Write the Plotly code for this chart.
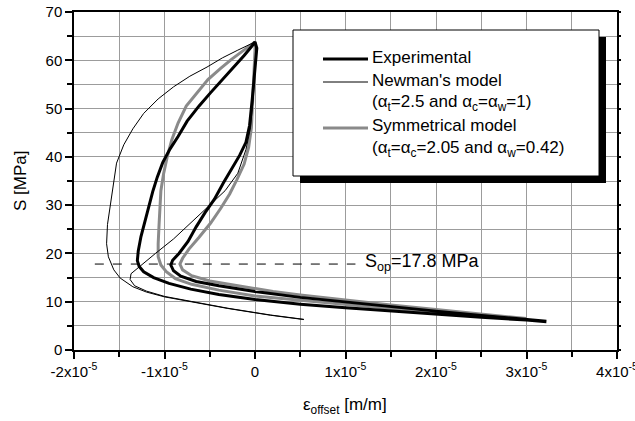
import plotly.graph_objects as go

# ---------------- data (strain offset in m/m, stress S in MPa) ----------------
exp_x = [3.22e-5, 3.0e-5, 2.5e-5, 2.0e-5, 1.5e-5, 1.0e-5, 0.5e-5, 0.0, -0.4e-5, -0.71e-5,
         -0.95e-5, -1.12e-5, -1.23e-5, -1.28e-5, -1.30e-5, -1.29e-5, -1.26e-5, -1.22e-5,
         -1.18e-5, -1.13e-5, -1.08e-5, -1.02e-5, -0.94e-5, -0.85e-5, -0.75e-5, -0.62e-5,
         -0.49e-5, -0.36e-5, -0.23e-5, -0.12e-5, -0.04e-5, 0.0,
         0.02e-5, 0.01e-5, -0.01e-5, -0.03e-5, -0.06e-5, -0.10e-5, -0.17e-5, -0.26e-5,
         -0.35e-5, -0.45e-5, -0.55e-5, -0.65e-5, -0.74e-5, -0.84e-5, -0.91e-5, -0.93e-5,
         -0.90e-5, -0.82e-5, -0.65e-5, -0.4e-5, 0.0, 0.5e-5, 1.0e-5, 1.5e-5, 2.0e-5,
         2.5e-5, 3.0e-5, 3.22e-5]
exp_s = [5.85, 6.2, 6.8, 7.4, 8.05, 8.75, 9.5, 10.45, 11.5, 12.6,
         13.8, 15.0, 16.2, 17.3, 18.5, 20.5, 23.5, 26.5,
         29.6, 32.8, 35.8, 38.8, 41.6, 44.2, 47.4, 50.5,
         53.3, 56.0, 58.6, 61.0, 62.8, 63.8,
         62.5, 60.0, 56.0, 52.0, 46.5, 43.0, 40.3, 37.5,
         34.6, 31.2, 28.5, 25.5, 22.5, 20.0, 18.6, 17.6,
         16.4, 15.3, 14.2, 13.3, 12.1, 10.9, 9.9, 9.0, 8.05,
         7.15, 6.3, 5.95]

newman_x = [0.54e-5, 0.17e-5, -0.3e-5, -0.7e-5, -1.0e-5, -1.2e-5, -1.35e-5, -1.49e-5,
            -1.56e-5, -1.62e-5, -1.64e-5, -1.63e-5, -1.60e-5, -1.57e-5, -1.53e-5, -1.45e-5,
            -1.35e-5, -1.23e-5, -1.07e-5, -0.90e-5, -0.72e-5, -0.53e-5, -0.36e-5, -0.19e-5,
            -0.07e-5, 0.0,
            0.01e-5, 0.0, -0.02e-5, -0.05e-5, -0.10e-5, -0.19e-5, -0.33e-5, -0.50e-5,
            -0.70e-5, -0.90e-5, -1.10e-5, -1.28e-5, -1.37e-5, -1.38e-5, -1.33e-5, -1.2e-5,
            -1.0e-5, -0.7e-5, -0.3e-5, 0.17e-5, 0.54e-5]
newman_s = [6.3, 7.2, 8.6, 10.0, 11.0, 12.0, 13.1, 14.9,
            16.6, 19.3, 22.0, 26.0, 29.6, 34.0, 38.7, 42.5,
            45.8, 49.0, 52.0, 54.5, 56.7, 58.6, 60.5, 62.1,
            63.2, 63.8,
            62.0, 58.0, 52.0, 46.0, 41.5, 36.6, 33.0, 30.0,
            26.5, 23.0, 20.0, 17.3, 15.8, 14.6, 13.3, 12.2,
            11.1, 10.05, 8.65, 7.25, 6.35]

sym_x = [3.0e-5, 2.5e-5, 2.0e-5, 1.5e-5, 1.0e-5, 0.5e-5, 0.0, -0.4e-5, -0.7e-5, -0.88e-5,
         -0.98e-5, -1.04e-5, -1.07e-5, -1.07e-5, -1.06e-5, -1.05e-5, -1.04e-5, -1.01e-5,
         -0.97e-5, -0.92e-5, -0.85e-5, -0.76e-5, -0.64e-5, -0.52e-5, -0.38e-5, -0.26e-5,
         -0.13e-5, -0.04e-5, 0.0,
         0.0, -0.01e-5, -0.02e-5, -0.04e-5, -0.07e-5, -0.12e-5, -0.2e-5, -0.28e-5,
         -0.38e-5, -0.49e-5, -0.62e-5, -0.73e-5, -0.80e-5, -0.83e-5, -0.80e-5, -0.70e-5,
         -0.5e-5, -0.2e-5, 0.2e-5, 0.5e-5, 1.0e-5, 1.5e-5, 2.0e-5, 2.5e-5, 3.0e-5]
sym_s = [6.4, 7.2, 7.9, 8.6, 9.4, 10.3, 11.2, 12.4, 13.6, 14.8,
         16.2, 17.6, 19.3, 22.0, 26.0, 29.6, 33.0, 36.5,
         40.0, 43.5, 47.0, 50.5, 53.3, 56.0, 58.3, 60.2,
         62.0, 63.3, 63.8,
         62.0, 58.0, 52.0, 46.0, 42.0, 38.5, 35.3, 32.3,
         29.3, 26.3, 23.3, 20.9, 19.0, 17.8, 16.6, 15.4,
         14.3, 13.3, 12.1, 11.4, 10.3, 9.3, 8.4, 7.4, 6.5]

sop_value = 17.8
sop_line_x = [-1.77e-5, 1.11e-5]

x_tickvals = [-2e-5, -1e-5, 0, 1e-5, 2e-5, 3e-5, 4e-5]
x_ticktext = ["-2x10<sup>-5</sup>", "-1x10<sup>-5</sup>", "0", "1x10<sup>-5</sup>",
              "2x10<sup>-5</sup>", "3x10<sup>-5</sup>", "4x10<sup>-5</sup>"]
x_minor_vals = [-1.5e-5, -0.5e-5, 0.5e-5, 1.5e-5, 2.5e-5, 3.5e-5]
y_tickvals = [0, 10, 20, 30, 40, 50, 60, 70]
y_minor_vals = [5, 15, 25, 35, 45, 55, 65]

legend_names = ["Experimental", "Newman's model",
                "(α<sub>t</sub>=2.5 and α<sub>c</sub>=α<sub>w</sub>=1)",
                "Symmetrical model",
                "(α<sub>t</sub>=α<sub>c</sub>=2.05 and α<sub>w</sub>=0.42)"]

# ---------------- figure ----------------
FONT = "Liberation Sans, Arial, sans-serif"
W, H = 635, 421
L, R, T, B = 74, 18, 12, 71
pw, ph = W - L - R, H - T - B

def px2paper_x(px):
    return (px - L) / pw

def py2paper_y(py):
    return (H - B - py) / ph

GRAY = "#8a8a8a"
GRID = "#9c9c9c"
fig = go.Figure()
fig.add_trace(go.Scatter(x=sym_x, y=sym_s, mode="lines",
                         line=dict(color=GRAY, width=3), name="Symmetrical model"))
fig.add_trace(go.Scatter(x=exp_x, y=exp_s, mode="lines",
                         line=dict(color="black", width=3), name="Experimental"))
fig.add_trace(go.Scatter(x=newman_x, y=newman_s, mode="lines",
                         line=dict(color="black", width=1), name="Newman's model"))
fig.add_trace(go.Scatter(x=sop_line_x, y=[sop_value, sop_value], mode="lines",
                         yaxis="y2",
                         line=dict(color="black", width=1, dash="dash"), name="Sop"))

fig.add_annotation(x=sop_line_x[1], y=sop_value, xref="x", yref="y",
                   text="S<sub>op</sub>=%.1f MPa" % sop_value, showarrow=False,
                   xanchor="left", yanchor="middle", xshift=8, yshift=2,
                   font=dict(family=FONT, size=18, color="black"))

# legend box with drop shadow
bx0, bx1, by0, by1 = 293, 599, 30, 176
sh = 7
fig.add_shape(type="rect", xref="paper", yref="paper",
              x0=px2paper_x(bx0 + sh), x1=px2paper_x(bx1 + sh),
              y0=py2paper_y(by1 + sh), y1=py2paper_y(by0 + sh),
              fillcolor="black", line=dict(width=0), layer="above")
fig.add_shape(type="rect", xref="paper", yref="paper",
              x0=px2paper_x(bx0), x1=px2paper_x(bx1),
              y0=py2paper_y(by1), y1=py2paper_y(by0),
              fillcolor="white", line=dict(color="black", width=1), layer="above")

rows = [57, 80, 103, 126, 149]
line_styles = {0: ("black", 3), 1: ("black", 1), 3: (GRAY, 3)}
for i, (name, ry) in enumerate(zip(legend_names, rows)):
    if i in line_styles:
        c, w = line_styles[i]
        fig.add_shape(type="line", xref="paper", yref="paper",
                      x0=px2paper_x(323), x1=px2paper_x(368),
                      y0=py2paper_y(ry + 2), y1=py2paper_y(ry + 2),
                      line=dict(color=c, width=w), layer="above")
    fig.add_annotation(x=px2paper_x(370), y=py2paper_y(ry), xref="paper", yref="paper",
                       text=name, showarrow=False, xanchor="left", yanchor="middle",
                       font=dict(family=FONT, size=17, color="black"))

# axis titles placed as annotations (pixel positions from the reference)
fig.add_annotation(x=px2paper_x(345), y=py2paper_y(406), xref="paper", yref="paper",
                   text="ε<sub>offset</sub> [m/m]", showarrow=False,
                   xanchor="center", yanchor="middle",
                   font=dict(family=FONT, size=17, color="black"))
fig.add_annotation(x=px2paper_x(20), y=py2paper_y(181), xref="paper", yref="paper",
                   text="S [MPa]", showarrow=False, textangle=-90,
                   xanchor="center", yanchor="middle",
                   font=dict(family=FONT, size=17, color="black"))

axis_common = dict(showline=True, linecolor="black", linewidth=1.5, automargin=False,
                   gridcolor=GRID, gridwidth=1, zeroline=False,
                   ticks="outside", ticklen=7, tickwidth=1.5, tickcolor="black",
                   ticklabeloverflow="allow",
                   tickfont=dict(family=FONT, size=15, color="black"))

fig.update_layout(
    xaxis=dict(range=[-2e-5, 4e-5], tickvals=x_tickvals, ticktext=x_ticktext, mirror=True,
               minor=dict(tickvals=x_minor_vals, ticks="outside", ticklen=5,
                          tickcolor="black", showgrid=True, gridcolor=GRID, gridwidth=1),
               **axis_common),
    yaxis=dict(range=[0, 70], tickvals=y_tickvals, mirror=True,
               minor=dict(tickvals=y_minor_vals, ticks="outside", ticklen=5,
                          tickcolor="black", showgrid=True, gridcolor=GRID, gridwidth=1),
               **axis_common),
    yaxis2=dict(range=[0, 70], overlaying="y", side="right", showgrid=False,
                zeroline=False, showline=False, automargin=False,
                tickvals=sorted(y_tickvals + y_minor_vals), showticklabels=False,
                ticks="outside", ticklen=3, tickwidth=1.5, tickcolor="black"),
    width=W, height=H, margin=dict(l=L, r=R, t=T, b=B, autoexpand=False),
    plot_bgcolor="white", paper_bgcolor="white", showlegend=False,
    font=dict(family=FONT, color="black"))

fig.write_html("out.html", config={"displayModeBar": False},
               post_script="document.body.style.margin='0px';document.body.style.padding='0px';")
